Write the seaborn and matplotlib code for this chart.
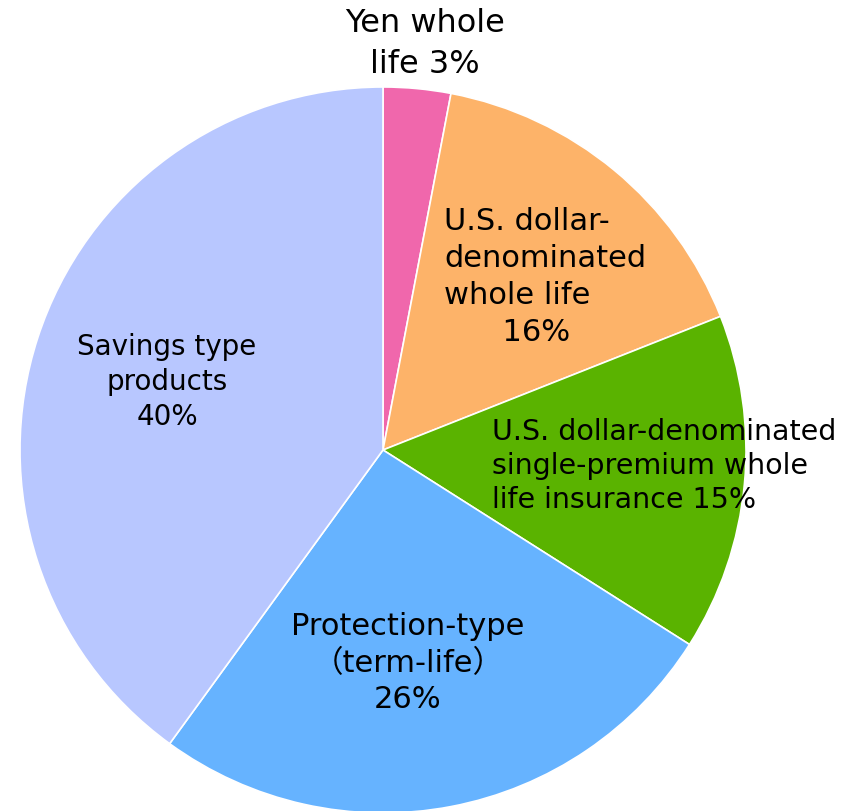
import matplotlib
matplotlib.use("Agg")
import matplotlib.pyplot as plt
import seaborn as sns

sns.set_style("white")
plt.rcParams['font.family'] = ['DejaVu Sans', 'Noto Sans CJK JP']

# 商品別の構成比（時計回り、真上から）
products = ["Yen whole life",
            "U.S. dollar-denominated whole life",
            "U.S. dollar-denominated single-premium whole life insurance",
            "Protection-type (term-life)",
            "Savings type products"]
shares = [3, 16, 15, 26, 40]
colors = ["#F067AC", "#FDB369", "#5AB300", "#66B3FF", "#B8C7FF"]
labels = ["Yen whole\nlife 3%",
          "U.S. dollar-\ndenominated\nwhole life\n      16%",
          "U.S. dollar-denominated\nsingle-premium whole\nlife insurance 15%",
          "Protection-type\n\uff08term-life\uff09\n26%",
          "Savings type\nproducts\n40%"]

fig = plt.figure(figsize=(8.56, 8.11), dpi=100)
ax = fig.add_axes([0, 0, 1, 1])

# 円グラフ（ピクセル単位）
ax.pie(shares, colors=colors, startangle=90, counterclock=False, radius=363,
       wedgeprops=dict(edgecolor="white", linewidth=1.2))
ax.set_xlim(-383, 856 - 383)
ax.set_ylim(-(811 - 450), 450)
ax.set_aspect("auto")
ax.axis("off")

# ラベル位置（x, y, 揃え, 文字サイズ, 行間）
label_pos = [(425, 44, "center", 23, 1.40),
             (444, 277, "left", 22, 1.36),
             (492, 466, "left", 20.5, 1.28),
             (408, 663, "center", 22, 1.34),
             (167, 382, "center", 20, 1.30)]
for lab, (px, py, ha, fs, ls) in zip(labels, label_pos):
    ax.text(px - 383, 450 - py, lab, ha=ha, va="center", multialignment=ha,
            fontsize=fs, linespacing=ls, color="black")

fig.savefig("out.png", dpi=100)
